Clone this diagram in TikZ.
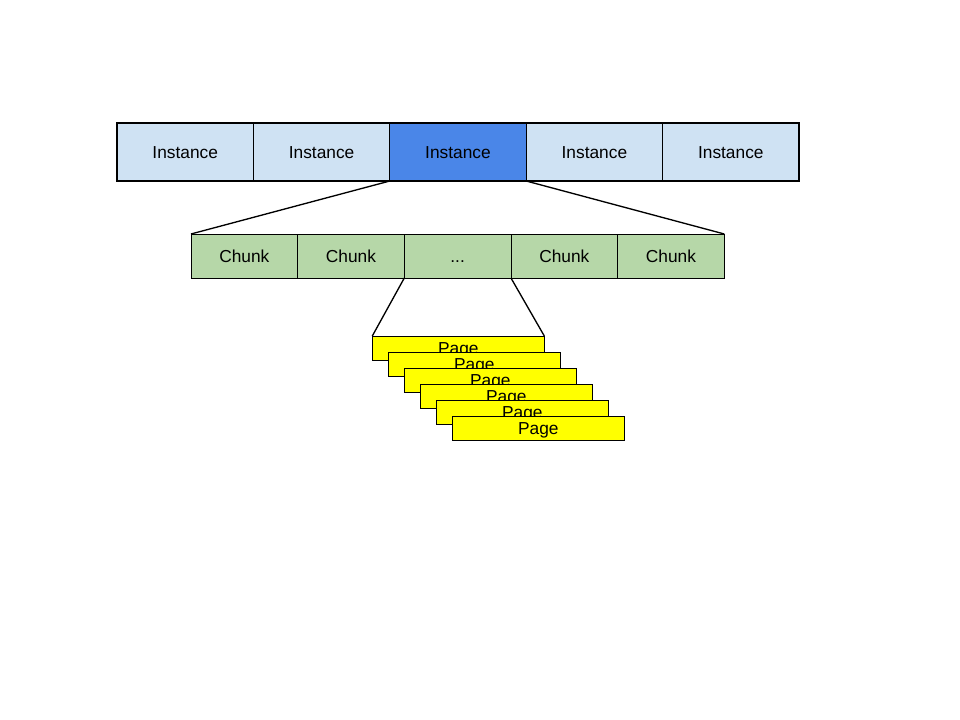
\documentclass[tikz,border=0pt]{standalone}
\usepackage{fontspec}
\setmainfont{Liberation Sans}
\usetikzlibrary{positioning}
\definecolor{instblue}{RGB}{207, 226, 243}
\definecolor{selblue}{RGB}{74, 134, 232}
\definecolor{chunkgreen}{RGB}{182, 215, 168}
\definecolor{pageyellow}{RGB}{255, 255, 0}

\begin{document}
\begin{tikzpicture}[
    x=0.75pt, y=-0.75pt,
    every node/.style={font=\fontsize{13}{15}\selectfont,
                       text height=2.1ex, text depth=0.2ex},
    instancebox/.style={rectangle, draw=black, fill=instblue, line width=1pt,
                        minimum width=102.3pt, minimum height=43.5pt,
                        inner sep=0pt, outer sep=0pt},
    chunkbox/.style={rectangle, draw=black, fill=chunkgreen, line width=0.5pt,
                     minimum width=80pt, minimum height=33pt,
                     inner sep=0pt, outer sep=0pt},
    pagebox/.style={rectangle, draw=black, fill=pageyellow, line width=0.7pt,
                    minimum width=129pt, minimum height=18pt,
                    inner sep=0pt, outer sep=0pt}
]
    \useasboundingbox[fill=white] (0,0) rectangle (960,720);

    % Instance row
    \node[instancebox] (i1) at (185.2,152) {Instance};
    \node[instancebox, right=0pt of i1] (i2) {Instance};
    \node[instancebox, fill=selblue, right=0pt of i2] (i3) {Instance};
    \node[instancebox, right=0pt of i3] (i4) {Instance};
    \node[instancebox, right=0pt of i4] (i5) {Instance};

    % Chunk row
    \node[chunkbox] (c1) at (244.3,256) {Chunk};
    \node[chunkbox, right=0pt of c1] (c2) {Chunk};
    \node[chunkbox, right=0pt of c2] (c3) {...};
    \node[chunkbox, right=0pt of c3] (c4) {Chunk};
    \node[chunkbox, right=0pt of c4] (c5) {Chunk};

    % Stack of pages
    \foreach \k in {1,...,6}
        \node[pagebox] (p\k) at (442.3+16*\k, 332+16*\k) {Page};

    % Zoom lines
    \draw[line width=1pt] (i3.south west) -- (c1.north west);
    \draw[line width=1pt] (i3.south east) -- (c5.north east);
    \draw[line width=1pt] (c3.south west) -- (p1.north west);
    \draw[line width=1pt] (c3.south east) -- (p1.north east);
\end{tikzpicture}
\end{document}
